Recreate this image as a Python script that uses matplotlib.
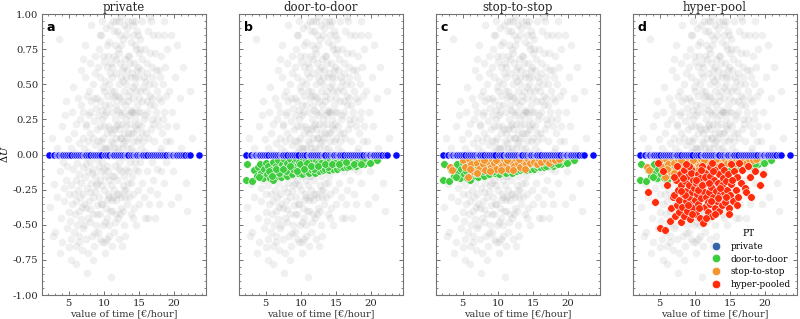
import numpy as np
import matplotlib
matplotlib.use("Agg")
import matplotlib.pyplot as plt
from matplotlib.ticker import AutoMinorLocator
from matplotlib.lines import Line2D

plt.rcParams['font.family'] = ['DejaVu Serif']
plt.rcParams['mathtext.fontset'] = 'dejavuserif'

panel_titles = ["private", "door-to-door", "stop-to-stop", "hyper-pool"]
panel_letters = ["a", "b", "c", "d"]
mode_labels = ["private", "door-to-door", "stop-to-stop", "hyper-pooled"]

############################
# grey cloud (all travellers): value of time, delta U
############################
all_pts = [
    (2.3,-0.37),(2.6,0.12),(2.9,-0.21),(3.1,-0.55),(3.3,0.05),(3.4,-0.3),(3.6,0.82),(3.7,-0.12),(3.9,-0.45),(4.0,0.2),
    (4.1,-0.62),(4.2,-0.05),(4.4,-0.33),(4.5,0.28),(4.6,-0.18),(4.7,-0.52),(4.8,-0.08),(4.9,0.11),(5.0,-0.41),(5.0,-0.66),
    (4.3,-0.24),(3.8,-0.7),(2.8,-0.58),(4.6,0.38),(5.1,-0.28),
    (5.2,-0.47),(5.3,0.05),(5.3,-0.6),(5.4,-0.22),(5.5,0.3),(5.5,-0.35),(5.6,-0.1),(5.7,-0.55),(5.7,0.15),(5.8,-0.28),
    (5.9,-0.42),(5.9,0.01),(6.0,-0.65),(6.0,-0.18),(6.1,0.22),(6.1,-0.33),(6.2,-0.5),(6.2,-0.06),(6.3,0.4),(6.3,-0.25),
    (6.4,-0.4),(6.4,0.08),(6.5,-0.58),(6.5,-0.14),(6.6,0.25),(6.6,-0.3),(6.7,-0.46),(6.7,0.0),(6.8,-0.2),(6.8,0.6),
    (6.9,-0.37),(6.9,-0.68),(7.0,0.12),(7.0,-0.09),(5.6,0.48),(6.1,-0.78),(5.4,-0.75),(6.8,0.35),(7.0,-0.52),(6.4,-0.62),
    (7.1,-0.28),(7.1,0.3),(7.2,-0.5),(7.2,0.05),(7.3,-0.16),(7.3,0.55),(7.4,-0.38),(7.4,-0.02),(7.5,0.2),(7.5,-0.6),
    (7.6,-0.24),(7.6,0.42),(7.7,-0.45),(7.7,0.1),(7.8,-0.12),(7.8,-0.7),(7.9,0.28),(7.9,-0.33),(8.0,0.65),(8.0,-0.05),
    (8.1,-0.48),(8.1,0.15),(8.2,-0.2),(8.2,0.38),(8.3,-0.58),(8.3,0.0),(8.4,-0.3),(8.4,0.5),(8.5,-0.1),(8.5,-0.42),
    (8.6,0.24),(8.6,-0.65),(8.7,0.07),(8.7,-0.26),(8.8,0.7),(8.8,-0.15),(8.9,-0.5),(8.9,0.33),(9.0,-0.03),(9.0,-0.36),
    (7.3,0.78),(7.6,-0.84),(8.2,0.92),(8.5,0.12),(8.0,-0.39),(7.9,0.45),(8.7,0.58),(8.9,-0.22),(7.5,-0.07),(8.4,-0.75),
    (9.0,0.18),(7.2,-0.35),(8.1,-0.27),(8.6,0.4),(7.8,0.02),(8.3,-0.13),(7.4,0.22),(8.8,-0.56),(7.0,0.68),(8.0,0.3),
    (9.1,-0.2),(9.1,0.4),(9.2,-0.55),(9.2,0.1),(9.3,0.75),(9.3,-0.3),(9.4,0.02),(9.4,0.55),(9.5,-0.42),(9.5,0.2),
    (9.6,-0.12),(9.6,0.85),(9.7,-0.62),(9.7,0.32),(9.8,-0.05),(9.8,-0.35),(9.9,0.48),(9.9,0.12),(10.0,-0.25),(10.0,0.66),
    (10.1,-0.48),(10.1,0.05),(10.2,0.28),(10.2,-0.15),(10.3,0.9),(10.3,-0.38),(10.4,0.15),(10.4,-0.6),(10.5,0.42),(10.5,-0.08),
    (10.6,-0.28),(10.6,0.7),(10.7,0.0),(10.7,-0.5),(10.8,0.35),(10.8,-0.18),(10.9,0.58),(10.9,-0.4),(11.0,0.1),(11.0,-0.87),
    (9.2,0.62),(9.4,-0.18),(9.6,0.1),(9.8,0.25),(10.0,-0.1),(10.2,0.52),(10.4,-0.32),(10.6,0.2),(10.8,0.8),(11.0,-0.22),
    (9.3,-0.08),(9.5,0.38),(9.7,-0.22),(9.9,-0.5),(10.1,0.35),(10.3,0.05),(10.5,0.62),(10.7,-0.3),(10.9,0.18),(9.1,-0.42),
    (9.6,-0.35),(10.0,0.2),(10.4,0.78),(10.8,0.05),(9.2,0.28),(9.8,0.95),(10.2,-0.7),(10.6,-0.12),(11.0,0.45),(10.1,-0.62),
    (9.5,-0.6),(9.9,0.7),(10.5,-0.45),(10.9,0.92),(10.3,0.3),(9.4,0.85),(10.7,0.5),(9.7,0.05),(10.0,0.45),(10.8,-0.58),
    (11.1,0.3),(11.1,-0.15),(11.2,0.62),(11.2,-0.4),(11.3,0.08),(11.3,0.95),(11.4,-0.25),(11.4,0.45),(11.5,-0.55),(11.5,0.18),
    (11.6,0.78),(11.6,-0.08),(11.7,0.35),(11.7,-0.32),(11.8,0.02),(11.8,0.58),(11.9,-0.18),(11.9,0.88),(12.0,0.22),(12.0,-0.45),
    (12.1,0.5),(12.1,-0.05),(12.2,0.72),(12.2,-0.28),(12.3,0.12),(12.3,0.4),(12.4,-0.12),(12.4,0.98),(12.5,0.28),(12.5,-0.38),
    (12.6,0.6),(12.6,0.05),(12.7,-0.22),(12.7,0.82),(12.8,0.15),(12.8,-0.5),(12.9,0.45),(12.9,-0.02),(13.0,0.68),(13.0,-0.3),
    (11.2,0.15),(11.4,0.05),(11.6,0.25),(11.8,-0.42),(12.0,0.75),(12.2,0.18),(12.4,-0.3),(12.6,0.38),(12.8,0.92),(13.0,0.1),
    (11.1,0.55),(11.3,-0.3),(11.5,0.7),(11.7,0.12),(11.9,0.32),(12.1,-0.6),(12.3,0.85),(12.5,0.0),(12.7,0.52),(12.9,-0.15),
    (11.2,-0.65),(11.6,-0.48),(12.0,0.05),(12.4,0.55),(12.8,0.3),(11.4,0.88),(11.8,0.2),(12.2,-0.1),(12.6,-0.65),(13.0,0.35),
    (11.3,0.4),(11.7,0.68),(12.1,0.3),(12.5,0.78),(12.9,0.62),(11.5,-0.15),(11.9,-0.28),(12.3,-0.42),(12.7,0.08),(11.1,-0.32),
    (12.0,0.42),(12.6,0.22),(11.6,0.42),(12.4,0.12),(12.2,0.95),(11.8,0.95),(12.8,-0.25),(11.0,0.65),(12.3,0.65),(12.7,-0.4),
    (13.1,0.5),(13.1,-0.1),(13.2,0.85),(13.2,0.2),(13.3,-0.35),(13.3,0.6),(13.4,0.05),(13.4,0.38),(13.5,0.95),(13.5,-0.2),
    (13.6,0.28),(13.6,0.7),(13.7,-0.05),(13.7,0.45),(13.8,0.15),(13.8,-0.42),(13.9,0.8),(13.9,0.32),(14.0,-0.15),(14.0,0.58),
    (14.1,0.1),(14.1,0.92),(14.2,0.4),(14.2,-0.28),(14.3,0.65),(14.3,0.02),(14.4,0.25),(14.4,0.78),(14.5,-0.1),(14.5,0.5),
    (14.6,0.18),(14.6,-0.5),(14.7,0.88),(14.7,0.35),(14.8,0.0),(14.8,0.62),(14.9,0.22),(14.9,-0.25),(15.0,0.72),(15.0,0.12),
    (13.2,-0.25),(13.4,0.7),(13.6,0.0),(13.8,0.55),(14.0,0.3),(14.2,0.85),(14.4,-0.05),(14.6,0.45),(14.8,0.3),(15.0,-0.35),
    (13.1,0.25),(13.3,0.12),(13.5,0.42),(13.7,0.65),(13.9,-0.2),(14.1,0.48),(14.3,0.3),(14.5,0.95),(14.7,0.1),(14.9,0.55),
    (13.2,0.55),(13.6,-0.3),(14.0,0.95),(14.4,0.55),(14.8,-0.12),(13.4,-0.12),(13.8,0.3),(14.2,0.15),(14.6,0.75),(15.0,0.4),
    (13.5,0.15),(13.9,0.05),(14.3,-0.38),(14.7,0.6),(13.3,0.9),(14.1,-0.45),(14.5,0.2),(13.7,0.22),(14.9,0.85),(13.0,-0.58),
    (15.1,0.45),(15.1,-0.05),(15.2,0.82),(15.3,0.2),(15.3,0.6),(15.4,-0.2),(15.5,0.38),(15.5,0.95),(15.6,0.1),(15.7,0.55),
    (15.7,-0.3),(15.8,0.28),(15.9,0.75),(15.9,0.02),(16.0,0.45),(16.1,-0.12),(16.1,0.65),(16.2,0.3),(16.3,0.88),(16.3,0.12),
    (16.4,0.5),(16.5,-0.25),(16.5,0.35),(16.6,0.72),(16.7,0.18),(16.8,0.55),(16.8,-0.05),(16.9,0.4),(17.0,0.85),(17.0,0.22),
    (15.2,0.3),(15.4,0.68),(15.6,0.48),(15.8,-0.45),(16.0,0.15),(16.2,0.58),(16.4,-0.35),(16.6,0.42),(16.8,0.25),(17.0,-0.18),
    (15.3,0.05),(15.7,0.25),(16.1,0.38),(16.5,0.98),(16.9,0.62),(15.5,0.15),(15.9,0.52),(16.3,-0.45),(16.7,0.95),(15.1,0.75),
    (17.1,0.5),(17.2,0.1),(17.3,0.72),(17.4,0.3),(17.5,-0.1),(17.6,0.45),(17.7,0.85),(17.8,0.2),(17.9,0.6),(18.0,0.02),
    (18.1,0.38),(18.2,0.7),(18.3,0.15),(18.4,0.5),(18.5,-0.2),(18.6,0.3),(18.7,0.62),(18.8,0.1),(18.9,0.42),(19.0,0.75),
    (17.2,0.35),(17.6,-0.28),(18.0,0.55),(18.4,0.25),(18.8,-0.05),(17.4,0.6),(17.8,0.4),(18.2,-0.12),(18.6,0.85),(19.0,0.2),
    (17.5,0.25),(18.1,0.05),(17.9,-0.35),(18.5,0.95),(17.3,-0.45),
    (19.2,0.45),(19.4,0.1),(19.5,0.85),(19.7,0.3),(19.9,-0.12),(20.1,0.55),(20.3,0.2),(20.6,-0.3),(20.8,0.4),(21.0,0.05),
    (21.3,0.62),(21.7,-0.2),(22.2,0.45),(22.5,0.12),(19.6,-0.35),(20.4,0.78),(21.9,-0.4),
]

############################
# private: everyone sits at delta U = 0
############################
private_vot = [2.2, 2.9, 3.3, 3.45, 3.6, 3.9, 4.05, 4.2, 4.5, 4.8, 5.1, 5.4, 5.7, 6.0, 6.3, 6.6, 6.9,
               7.2, 7.35, 7.5, 7.8, 8.1, 8.4, 8.7, 9.0, 9.3, 9.6, 10.2, 10.5, 10.8, 11.1, 11.25, 11.4,
               11.7, 12.0, 12.3, 12.6, 12.9, 13.2, 13.35, 13.5, 13.8, 14.1, 14.4, 14.55, 14.7, 15.0,
               15.3, 15.45, 15.6, 15.9, 16.2, 16.5, 16.8, 17.1, 17.4, 17.7, 18.0, 18.3, 18.6, 18.9,
               19.2, 19.5, 19.65, 19.8, 20.1, 20.25, 20.4, 20.7, 21.0, 21.3, 21.6, 22.0, 22.3, 23.5]

############################
# door-to-door
############################
d2d_pts = [
    (2.2,-0.18),(2.4,-0.07),(3.1,-0.19),(3.4,-0.11),(3.7,-0.15),(3.9,-0.09),(4.2,-0.07),(4.4,-0.13),(4.6,-0.17),(4.8,-0.1),
    (5.0,-0.06),(5.2,-0.14),(5.4,-0.08),(5.6,-0.17),(5.8,-0.11),(6.0,-0.05),(6.1,-0.18),(6.3,-0.13),(6.5,-0.08),(6.7,-0.15),
    (6.8,-0.04),(7.0,-0.11),(7.2,-0.16),(7.3,-0.07),(7.5,-0.13),(7.6,-0.03),(7.8,-0.09),(8.0,-0.15),(8.1,-0.06),(8.3,-0.12),
    (8.5,-0.03),(8.6,-0.09),(8.8,-0.14),(9.0,-0.06),(9.1,-0.11),(9.3,-0.03),(9.5,-0.08),(9.6,-0.13),(9.8,-0.05),(10.0,-0.1),
    (10.1,-0.14),(10.3,-0.03),(10.5,-0.07),(10.6,-0.12),(10.8,-0.04),(11.0,-0.09),(11.1,-0.13),(11.3,-0.06),(11.5,-0.03),(11.6,-0.11),
    (11.8,-0.08),(12.0,-0.13),(12.1,-0.04),(12.3,-0.1),(12.5,-0.06),(12.6,-0.12),(12.8,-0.03),(13.0,-0.08),(13.1,-0.11),(13.3,-0.05),
    (13.5,-0.1),(13.6,-0.03),(13.8,-0.07),(14.0,-0.11),(14.1,-0.04),(14.3,-0.09),(14.5,-0.06),(14.6,-0.1),(14.8,-0.03),(15.0,-0.08),
    (15.1,-0.1),(15.3,-0.05),(15.5,-0.09),(15.6,-0.03),(15.8,-0.07),(16.0,-0.09),(16.1,-0.04),(16.3,-0.06),(16.5,-0.09),(16.6,-0.03),
    (16.8,-0.07),(17.0,-0.05),(17.2,-0.08),(17.4,-0.03),(17.6,-0.06),(17.8,-0.08),(18.0,-0.04),(18.3,-0.06),(18.5,-0.03),(18.8,-0.05),
    (19.0,-0.07),(19.3,-0.04),(19.6,-0.03),(20.0,-0.05),(20.4,-0.03),(20.8,-0.04),
    (4.0,-0.16),(5.5,-0.12),(6.9,-0.13),(7.9,-0.12),(8.9,-0.1),(9.9,-0.07),(10.9,-0.06),(11.9,-0.1),(12.9,-0.06),(13.9,-0.09),
    (14.9,-0.06),(15.9,-0.05),(16.9,-0.08),(17.9,-0.06),(18.9,-0.03),(6.4,-0.1),(7.4,-0.1),(8.4,-0.08),(9.4,-0.12),(10.4,-0.1),
    (11.4,-0.08),(12.4,-0.08),(13.4,-0.07),(14.4,-0.07),(15.4,-0.07),(16.4,-0.05),(17.5,-0.07),(18.6,-0.07),(19.8,-0.06),(5.9,-0.15),
]

############################
# stop-to-stop
############################
s2s_pts = [
    (3.2,-0.09),(3.5,-0.11),(5.0,-0.04),(5.3,-0.09),(5.7,-0.16),(5.9,-0.03),(6.2,-0.07),(6.5,-0.12),(6.8,-0.02),(7.0,-0.06),
    (7.3,-0.1),(7.6,-0.03),(7.9,-0.07),(8.2,-0.11),(8.4,-0.02),(8.7,-0.05),(9.0,-0.09),(9.2,-0.03),(9.5,-0.06),(9.8,-0.1),
    (10.0,-0.02),(10.3,-0.05),(10.6,-0.08),(10.9,-0.03),(11.2,-0.06),(11.5,-0.1),(11.7,-0.02),(12.0,-0.05),(12.3,-0.08),(12.6,-0.03),
    (12.9,-0.06),(13.2,-0.09),(13.4,-0.02),(13.7,-0.05),(14.0,-0.07),(14.3,-0.03),(14.6,-0.06),(14.9,-0.02),(15.2,-0.05),(15.5,-0.07),
    (15.8,-0.03),(16.1,-0.05),(16.5,-0.02),(16.9,-0.04),(17.3,-0.06),(17.7,-0.03),(18.2,-0.04),(18.7,-0.03),
    (6.0,-0.1),(7.1,-0.13),(8.0,-0.04),(8.9,-0.12),(9.7,-0.04),(10.5,-0.11),(11.3,-0.04),(12.2,-0.11),(13.0,-0.03),(13.9,-0.1),
]

############################
# hyper-pooled
############################
hp_pts = [
    (3.3,-0.27),(4.4,-0.34),(5.0,-0.52),(5.8,-0.54),(6.0,-0.22),(6.4,-0.47),(5.5,-0.12),(4.8,-0.06),(6.6,-0.38),(6.9,-0.3),
    (7.1,-0.29),(7.2,-0.44),(7.3,-0.18),(7.4,-0.36),(7.5,-0.08),(7.6,-0.25),(7.7,-0.41),(7.8,-0.32),(7.9,-0.14),(8.0,-0.48),
    (8.1,-0.22),(8.2,-0.37),(8.3,-0.28),(8.4,-0.11),(8.5,-0.44),(8.6,-0.19),(8.7,-0.33),(8.8,-0.26),(8.9,-0.4),(9.0,-0.15),
    (9.1,-0.3),(9.2,-0.22),(9.3,-0.46),(9.4,-0.35),(9.5,-0.1),(9.6,-0.27),(9.7,-0.18),(9.8,-0.38),(9.9,-0.24),(10.0,-0.32),
    (9.4,-0.13),(8.6,-0.29),(9.0,-0.36),(8.3,-0.17),
    (10.1,-0.42),(10.2,-0.2),(10.3,-0.28),(10.4,-0.14),(10.5,-0.35),(10.6,-0.24),(10.7,-0.45),(10.8,-0.17),(10.9,-0.31),(11.0,-0.08),
    (11.1,-0.49),(11.2,-0.26),(11.3,-0.21),(11.4,-0.37),(11.5,-0.13),(11.6,-0.3),(11.8,-0.41),(11.9,-0.19),(12.0,-0.27),
    (11.4,-0.16),(10.6,-0.38),(10.9,-0.11),(11.8,-0.34),(12.1,-0.09),
    (12.1,-0.35),(12.2,-0.15),(12.3,-0.23),(12.4,-0.44),(12.5,-0.06),(12.6,-0.3),(12.7,-0.18),(12.8,-0.38),(12.9,-0.11),(13.0,-0.26),
    (13.1,-0.33),(13.3,-0.2),(13.4,-0.4),(13.5,-0.14),(13.6,-0.28),(13.7,-0.08),(13.8,-0.36),(13.9,-0.22),(14.0,-0.17),
    (13.3,-0.31),(12.6,-0.12),(12.9,-0.42),(14.2,-0.27),
    (14.1,-0.11),(14.3,-0.34),(14.4,-0.19),(14.6,-0.25),(14.8,-0.38),(14.9,-0.42),(14.7,-0.14),(15.0,-0.29),(15.1,-0.07),
    (15.2,-0.21),(15.4,-0.33),(15.5,-0.12),(15.8,-0.25),(16.0,-0.16),(16.1,-0.3),(16.3,-0.06),(16.5,-0.2),(16.7,-0.11),
    (17.1,-0.24),(17.3,-0.27),(17.5,-0.08),(17.8,-0.16),(18.0,-0.3),(18.6,-0.12),(19.2,-0.22),(19.7,-0.14),
    (9.2,-0.08),(10.4,-0.25),(11.0,-0.22),(12.0,-0.2),(11.6,-0.45),(12.3,-0.33),(10.1,-0.18),(9.6,-0.42),(8.8,-0.07),(13.6,-0.24),
    (14.4,-0.3),(15.3,-0.18),(16.0,-0.36),(8.0,-0.26),(7.0,-0.16),
]

c_grey = "#8c8c8c"
c_private = "#0a0aff"
c_d2d = "#3fcc3f"
c_s2s = "#f39630"
c_hp = "#ff2c0c"
legend_colors = ["#3465a8", c_d2d, c_s2s, c_hp]


def xy(pts):
    a = np.array(pts)
    return a[:, 0], a[:, 1]


fig, axes = plt.subplots(1, 4, figsize=(8.0, 3.19), dpi=100, sharey=True)
fig.subplots_adjust(left=0.052, right=0.996, top=0.956, bottom=0.075, wspace=0.2)

gx, gy = xy(all_pts)
layers = [[], [d2d_pts], [d2d_pts, s2s_pts], [d2d_pts, s2s_pts, hp_pts]]
layer_colors = [[], [c_d2d], [c_d2d, c_s2s], [c_d2d, c_s2s, c_hp]]

for i, ax in enumerate(axes):
    ax.scatter(gx, gy, s=30, color=c_grey, alpha=0.13, linewidths=0, zorder=1)
    for pts, col in zip(layers[i], layer_colors[i]):
        px, py = xy(pts)
        ax.scatter(px, py, s=30, color=col, edgecolors="white", linewidths=0.4, zorder=2)
    ax.scatter(private_vot, np.zeros(len(private_vot)), s=27, color=c_private,
               edgecolors="white", linewidths=0.4, zorder=3)

    ax.set_xlim(1.15, 24.5)
    ax.set_ylim(-1.0, 1.0)
    ax.set_xticks([5, 10, 15, 20])
    ax.set_yticks(np.arange(-1.0, 1.01, 0.25))
    ax.xaxis.set_minor_locator(AutoMinorLocator(5))
    ax.yaxis.set_minor_locator(AutoMinorLocator(5))
    ax.tick_params(which="both", direction="in", top=True, right=True, colors="0.35",
                   labelcolor="0.15", labelsize=7.2, pad=2.5)
    ax.tick_params(which="major", length=3, width=0.6)
    ax.tick_params(which="minor", length=1.6, width=0.5)
    for sp in ax.spines.values():
        sp.set_color("0.45")
        sp.set_linewidth(0.8)
    ax.set_title(panel_titles[i], fontsize=8.5, pad=2.5, color="0.15")
    ax.set_xlabel("value of time [€/hour]", fontsize=7, labelpad=1.5, color="0.2")
    ax.text(0.03, 0.975, panel_letters[i], transform=ax.transAxes, ha="left", va="top",
            fontsize=9, fontweight="bold", family="DejaVu Sans")

axes[0].set_yticklabels(["%.2f" % v for v in np.arange(-1.0, 1.01, 0.25)])
axes[0].set_ylabel(r"$\Delta U$", fontsize=7, labelpad=2)

handles = [Line2D([], [], marker="o", linestyle="", markersize=6, markerfacecolor=c,
                  markeredgecolor="white", markeredgewidth=0.4) for c in legend_colors]
leg = axes[3].legend(handles, mode_labels, title="PT", loc="lower right", frameon=False,
                     fontsize=6.5, title_fontsize=6.5, handletextpad=0.6, labelspacing=0.4,
                     borderaxespad=0.3)

fig.savefig("out.png", dpi=100)
